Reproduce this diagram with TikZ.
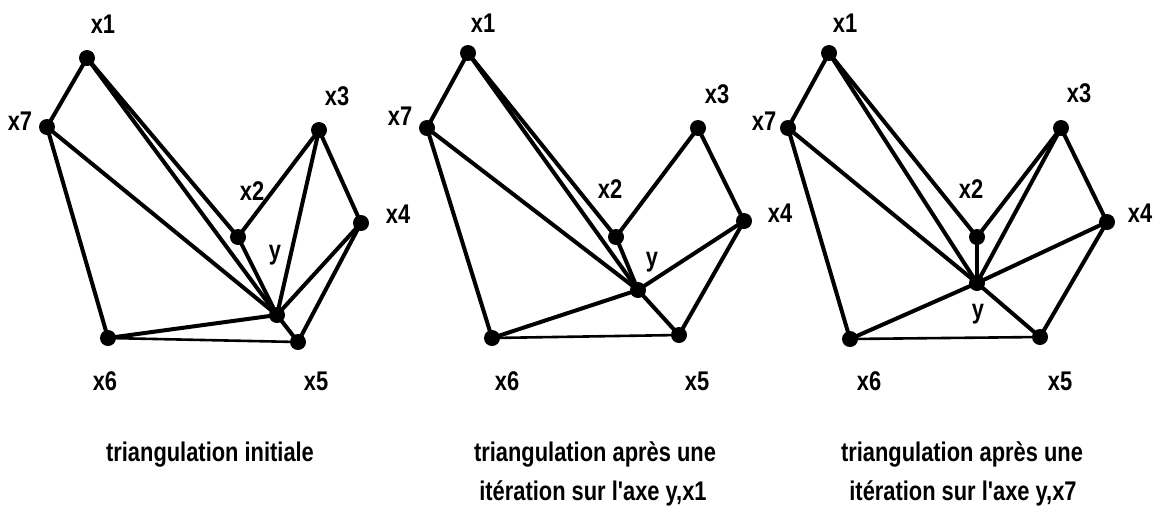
\documentclass[tikz,border=0pt]{standalone}
\usepackage{fontspec}
\setmainfont{Liberation Sans}
\newfontfamily\figfont[FakeStretch=0.81]{Liberation Sans}
\begin{document}
\begin{tikzpicture}[x=1pt,y=-1pt,
  dot/.style={circle,fill=black,inner sep=0pt,minimum size=16pt},
  edge/.style={line width=4pt,line cap=round,line join=round},
  thinedge/.style={line width=2.6pt,line cap=round},
  lbl/.style={anchor=base,inner sep=0pt,font=\figfont\bfseries\fontsize{27}{31}\selectfont},
  captext/.style={anchor=base,inner sep=0pt,font=\figfont\bfseries\fontsize{27}{31}\selectfont}]
\useasboundingbox (0,0) rectangle (1166,523);
% ---------- panel 1 ----------
\node[dot] (a1) at (87,58) {};
\node[dot] (a2) at (238,237) {};
\node[dot] (a3) at (319,130) {};
\node[dot] (a4) at (361,223) {};
\node[dot] (a5) at (298,342) {};
\node[dot] (a6) at (108,338) {};
\node[dot] (a7) at (47,127) {};
\node[dot] (ay) at (277,315) {};
\draw[edge] (a1.center) -- (a7.center) -- (a6.center);
\draw[thinedge] (a6.center) -- (a5.center);
\draw[edge] (a5.center) -- (a4.center) -- (a3.center) -- (a2.center) -- (a1.center);
\foreach \v in {a1,a2,a3,a4,a5,a6,a7} \draw[edge] (ay.center) -- (\v.center);
\node[lbl] (la1) at (103,33) {x1};
\node[lbl] (la7) at (20,130) {x7};
\node[lbl] (la3) at (337,105) {x3};
\node[lbl] (la2) at (252,200) {x2};
\node[lbl] (lay) at (275,259) {y};
\node[lbl] (la4) at (398,223) {x4};
\node[lbl] (la6) at (105,390) {x6};
\node[lbl] (la5) at (316,390) {x5};
% ---------- panel 2 ----------
\node[dot] (b1) at (468,53) {};
\node[dot] (b2) at (616,237) {};
\node[dot] (b3) at (698,128) {};
\node[dot] (b4) at (744,221) {};
\node[dot] (b5) at (679,335) {};
\node[dot] (b6) at (492,338) {};
\node[dot] (b7) at (427,128) {};
\node[dot] (by) at (638,290) {};
\draw[edge] (b1.center) -- (b7.center) -- (b6.center);
\draw[thinedge] (b6.center) -- (b5.center);
\draw[edge] (b5.center) -- (b4.center) -- (b3.center) -- (b2.center) -- (b1.center);
\foreach \v in {b1,b2,b4,b5,b6,b7} \draw[edge] (by.center) -- (\v.center);
\node[lbl] (lb1) at (483,32) {x1};
\node[lbl] (lb7) at (400,125) {x7};
\node[lbl] (lb3) at (717,103) {x3};
\node[lbl] (lb2) at (610,198) {x2};
\node[lbl] (lby) at (652,266) {y};
\node[lbl] (lb4) at (780,222) {x4};
\node[lbl] (lb6) at (507,390) {x6};
\node[lbl] (lb5) at (697,390) {x5};
% ---------- panel 3 ----------
\node[dot] (c1) at (829,53) {};
\node[dot] (c2) at (977,237) {};
\node[dot] (c3) at (1061,128) {};
\node[dot] (c4) at (1107,222) {};
\node[dot] (c5) at (1040,337) {};
\node[dot] (c6) at (850,339) {};
\node[dot] (c7) at (788,128) {};
\node[dot] (cy) at (977,283) {};
\draw[edge] (c1.center) -- (c7.center) -- (c6.center);
\draw[thinedge] (c6.center) -- (c5.center);
\draw[edge] (c5.center) -- (c4.center) -- (c3.center) -- (c2.center) -- (c1.center);
\foreach \v in {c1,c2,c3,c4,c5,c6,c7} \draw[edge] (cy.center) -- (\v.center);
\node[lbl] (lc1) at (845,32) {x1};
\node[lbl] (lc7) at (764,130) {x7};
\node[lbl] (lc3) at (1079,102) {x3};
\node[lbl] (lc2) at (971,198) {x2};
\node[lbl] (lcy) at (978,318) {y};
\node[lbl] (lc4) at (1140,222) {x4};
\node[lbl] (lc6) at (869,390) {x6};
\node[lbl] (lc5) at (1060,390) {x5};
% ---------- captions ----------
\node[captext] (t1) at (210,461) {triangulation initiale};
\node[captext] (t2a) at (595,461) {triangulation après une};
\node[captext] (t2b) at (593,500) {itération sur l'axe y,x1};
\node[captext] (t3a) at (962,461) {triangulation après une};
\node[captext] (t3b) at (963,500) {itération sur l'axe y,x7};
\end{tikzpicture}
\end{document}
